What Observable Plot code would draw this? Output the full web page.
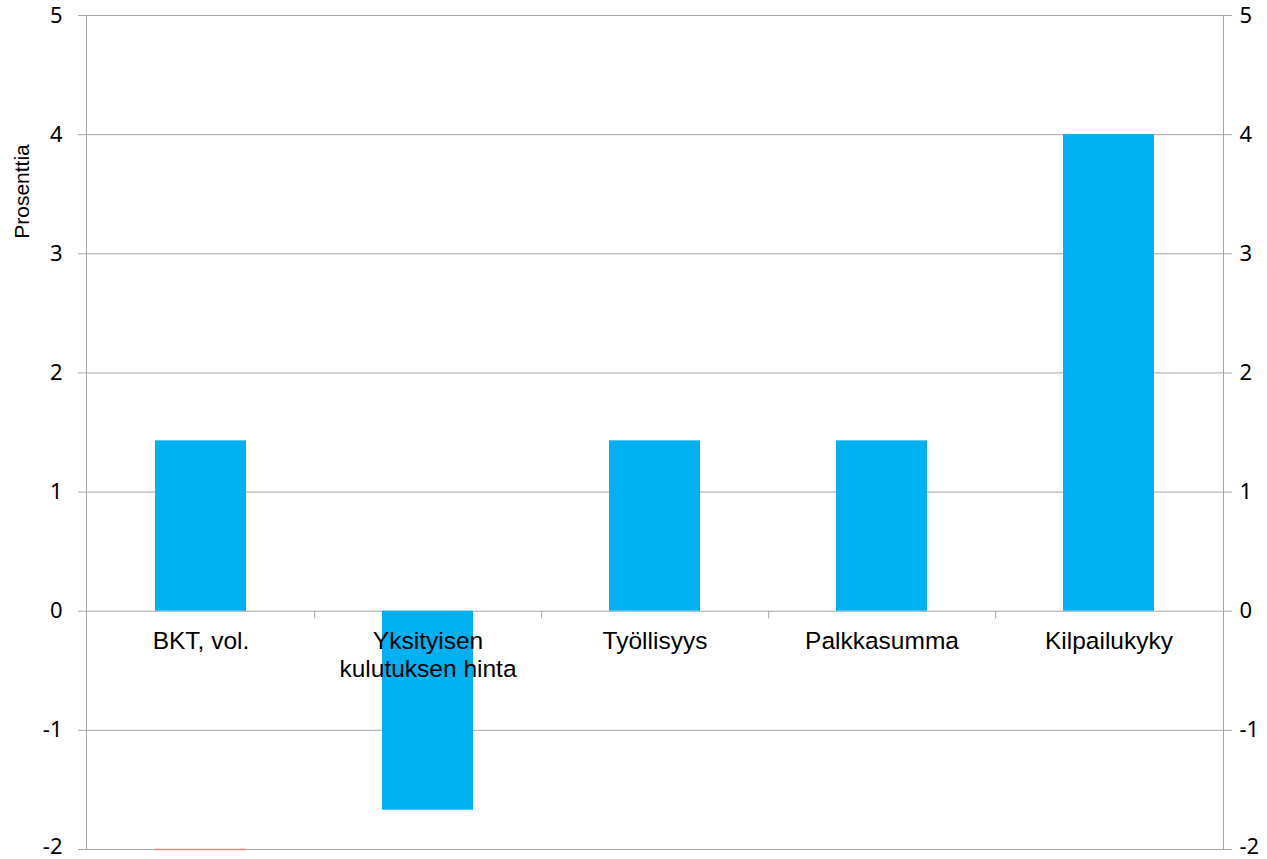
<!DOCTYPE html>
<html>
<head>
<meta charset="utf-8">
<script src="https://cdn.jsdelivr.net/npm/d3@7"></script>
<script src="https://cdn.jsdelivr.net/npm/@observablehq/plot@0.6"></script>
<style>
  html, body { margin: 0; padding: 0; background: #fff; }
  #chart svg { display: block; }
</style>
</head>
<body>
<div id="chart"></div>
<script>
const categories = ["BKT, vol.", "Yksityisen\nkulutuksen hinta", "Työllisyys", "Palkkasumma", "Kilpailukyky"];
const values = [1.43, -1.67, 1.43, 1.43, 4.0];
const yTicks = [-2, -1, 0, 1, 2, 3, 4, 5];
const yLabel = "Prosenttia";
const secondaryCats = ["BKT, vol."];
const secondaryVals = [-2];

const data = categories.map((c, i) => ({cat: c, value: values[i]}));
const secondary = secondaryCats.map((c, i) => ({cat: c, value: secondaryVals[i]}));

const W = 1267, H = 859;
const mL = 86, mR = 44, mT = 15, mB = 10;
const step = (W - mL - mR) / categories.length;

const numFont = "'Noto Sans', 'Open Sans', sans-serif";
const txtFont = "'Liberation Sans', Arial, sans-serif";

const topTicks = yTicks.filter(d => d > -2);
const bottomTicks = yTicks.filter(d => d === -2);

const chart = Plot.plot({
  width: W,
  height: H,
  marginLeft: mL,
  marginRight: mR,
  marginTop: mT,
  marginBottom: mB,
  style: {fontFamily: txtFont, background: "#fff", overflow: "visible"},
  x: {domain: categories, paddingInner: 0.6, paddingOuter: 0.3, axis: null},
  y: {domain: [-2, 5], axis: null},
  marks: [
    Plot.ruleY(yTicks, {stroke: "#a6a6a6", strokeWidth: 1, insetLeft: -8, insetRight: -9}),
    Plot.frame({anchor: "left", stroke: "#a6a6a6"}),
    Plot.frame({anchor: "right", stroke: "#a6a6a6"}),
    Plot.barY(data, {x: "cat", y: "value", fill: "#00B0F0"}),
    Plot.tickY(secondary, {x: "cat", y: "value", stroke: "#f08080", strokeWidth: 1.5}),
    Plot.ruleX(categories.slice(0, -1), {x: d => d, y1: 0, y2: -0.065, dx: step / 2, stroke: "#a6a6a6"}),
    Plot.text(topTicks, {y: d => d, text: d => String(d), frameAnchor: "left", dx: -24, textAnchor: "end", fontSize: 22, fontFamily: numFont, fill: "#000"}),
    Plot.text(topTicks, {y: d => d, text: d => String(d), frameAnchor: "right", dx: 16, textAnchor: "start", fontSize: 22, fontFamily: numFont, fill: "#000"}),
    Plot.text(bottomTicks, {y: d => d, text: d => String(d), frameAnchor: "left", dx: -24, dy: -3, textAnchor: "end", fontSize: 22, fontFamily: numFont, fill: "#000"}),
    Plot.text(bottomTicks, {y: d => d, text: d => String(d), frameAnchor: "right", dx: 16, dy: -3, textAnchor: "start", fontSize: 22, fontFamily: numFont, fill: "#000"}),
    Plot.text(data, {x: "cat", y: () => 0, text: "cat", lineAnchor: "top", dy: 18, fontSize: 24.5, lineHeight: 1.14, fontFamily: txtFont, fill: "#000"}),
    Plot.text([yLabel], {text: d => d, frameAnchor: "top-left", textAnchor: "middle", dx: -72, dy: 176, rotate: -90, fontSize: 21, fontFamily: txtFont, fill: "#000"})
  ]
});
document.getElementById("chart").appendChild(chart);
</script>
</body>
</html>
